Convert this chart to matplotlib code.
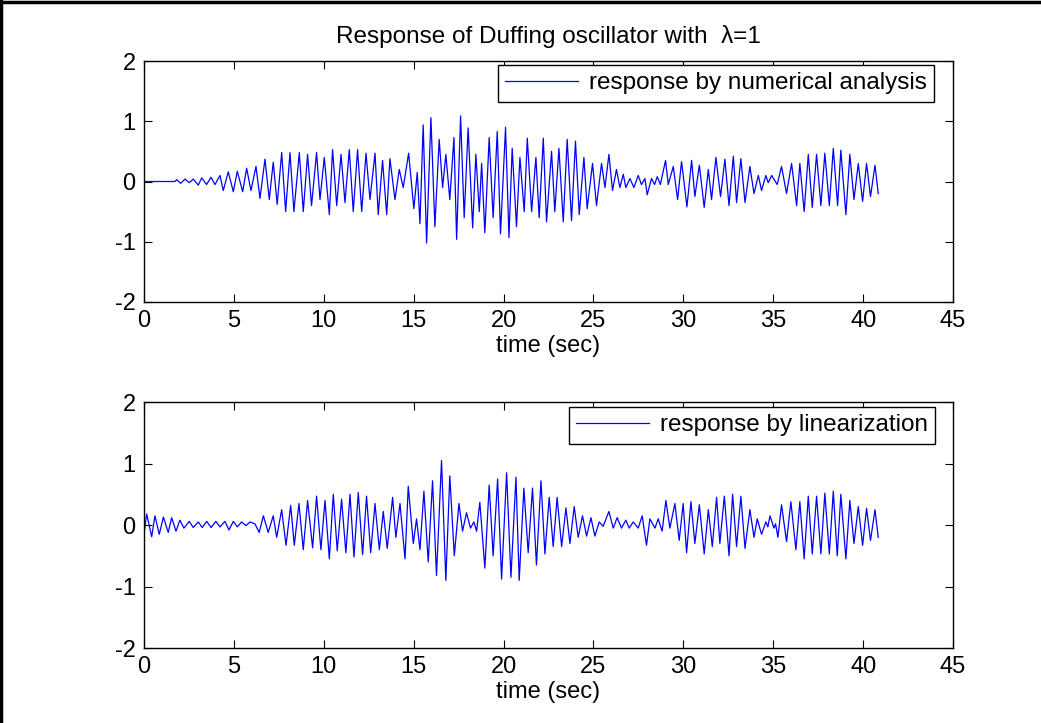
import matplotlib
matplotlib.use("Agg")
import matplotlib.pyplot as plt
from matplotlib.lines import Line2D

plt.rcParams["font.family"] = ["Liberation Sans", "DejaVu Sans"]
plt.rcParams["axes.unicode_minus"] = False

# peaks/troughs (time in s, response)
t_num = [0.0, 1.72, 1.82, 2.04, 2.28, 2.52, 2.74, 3.02, 3.21, 3.48, 3.73, 3.95,
         4.23, 4.41, 4.69, 4.97, 5.19, 5.49, 5.71, 5.95, 6.23, 6.45, 6.73, 6.97,
         7.19, 7.41, 7.66, 7.88, 8.12, 8.34, 8.64, 8.86, 9.10, 9.32, 9.60, 9.79,
         10.03, 10.31, 10.49, 10.72, 10.96, 11.18, 11.42, 11.64, 11.88, 12.11,
         12.35, 12.57, 12.85, 13.03, 13.27, 13.50, 13.68, 13.96, 14.20, 14.42,
         14.72, 15.01, 15.20, 15.35, 15.53, 15.72, 15.96, 16.18, 16.42, 16.61,
         16.79, 17.01, 17.24, 17.39, 17.61, 17.81, 18.03, 18.28, 18.46, 18.65,
         18.78, 18.96, 19.20, 19.42, 19.65, 19.83, 20.11, 20.30, 20.48, 20.72,
         20.91, 21.15, 21.32, 21.56, 21.80, 21.98, 22.21, 22.39, 22.67, 22.85,
         23.08, 23.32, 23.54, 23.78, 24.00, 24.21, 24.47, 24.65, 24.95, 25.17,
         25.45, 25.64, 25.86, 26.06, 26.28, 26.47, 26.66, 26.80, 27.03, 27.25,
         27.49, 27.67, 27.86, 27.99, 28.23, 28.40, 28.55, 28.72, 29.01, 29.16,
         29.44, 29.68, 29.90, 30.20, 30.46, 30.64, 30.89, 31.16, 31.39, 31.57,
         31.81, 32.07, 32.31, 32.54, 32.78, 32.96, 33.20, 33.43, 33.70, 33.93,
         34.17, 34.35, 34.59, 34.72, 34.91, 35.22, 35.46, 35.74, 36.02, 36.30,
         36.48, 36.72, 36.95, 37.17, 37.41, 37.65, 37.87, 38.12, 38.34, 38.58,
         38.76, 39.04, 39.26, 39.49, 39.73, 39.97, 40.19, 40.41, 40.66, 40.84]
y_num = [0.0, 0.0, 0.03, -0.03, 0.04, -0.02, 0.04, -0.06, 0.06, -0.05, 0.07, -0.05,
         0.10, -0.15, 0.16, -0.17, 0.17, -0.17, 0.22, -0.15, 0.25, -0.28, 0.37, -0.30,
         0.32, -0.38, 0.48, -0.50, 0.48, -0.50, 0.48, -0.50, 0.45, -0.40, 0.48, -0.30,
         0.40, -0.55, 0.53, -0.40, 0.45, -0.35, 0.53, -0.50, 0.53, -0.50,
         0.47, -0.30, 0.47, -0.55, 0.35, -0.55, 0.38, -0.30, 0.20, -0.10,
         0.47, -0.45, 0.15, -0.70, 0.94, -1.02, 1.06, -0.75, 0.70, -0.10,
         0.45, -0.30, 0.73, -0.96, 1.09, -0.60, 0.89, -0.77, 0.45, -0.50,
         0.30, -0.85, 0.73, -0.60, 0.83, -0.87, 0.90, -0.93, 0.55, -0.75,
         0.40, -0.50, 0.72, -0.50, 0.40, -0.60, 0.72, -0.67, 0.50, -0.50,
         0.55, -0.67, 0.70, -0.65, 0.67, -0.55, 0.40, -0.45, 0.30, -0.40,
         0.30, -0.10, 0.45, -0.15, 0.20, -0.10, 0.12, -0.10, 0.05, -0.10,
         0.10, -0.05, 0.05, -0.22, 0.05, -0.05, 0.08, -0.05, 0.35, -0.05,
         0.25, -0.30, 0.33, -0.42, 0.35, -0.25, 0.27, -0.43, 0.20, -0.30,
         0.40, -0.25, 0.37, -0.40, 0.42, -0.35, 0.38, -0.35, 0.25, -0.20,
         0.10, -0.15, 0.10, -0.02, 0.10, -0.05, 0.25, -0.20, 0.30, -0.40,
         0.30, -0.50, 0.45, -0.43, 0.45, -0.40, 0.47, -0.40, 0.55, -0.40,
         0.52, -0.55, 0.45, -0.30, 0.30, -0.33, 0.30, -0.25, 0.27, -0.20]

t_lin = [0.0, 0.15, 0.43, 0.61, 0.85, 1.08, 1.35, 1.54, 1.78, 2.00, 2.22, 2.52,
         2.74, 3.02, 3.24, 3.49, 3.73, 4.00, 4.23, 4.50, 4.73, 4.97, 5.19, 5.43,
         5.67, 5.90, 6.17, 6.41, 6.64, 6.91, 7.19, 7.38, 7.66, 7.90, 8.16, 8.36,
         8.62, 8.86, 9.10, 9.38, 9.60, 9.84, 10.07, 10.31, 10.53, 10.75, 10.99,
         11.23, 11.46, 11.68, 11.92, 12.16, 12.38, 12.61, 12.85, 13.09, 13.31,
         13.53, 13.83, 14.01, 14.24, 14.52, 14.70, 14.98, 15.16, 15.35, 15.57,
         15.81, 16.05, 16.27, 16.55, 16.79, 17.01, 17.26, 17.52, 17.72, 17.94,
         18.16, 18.35, 18.50, 18.68, 18.96, 19.20, 19.42, 19.67, 19.89, 20.17,
         20.41, 20.69, 20.87, 21.13, 21.37, 21.61, 21.83, 22.08, 22.30, 22.54,
         22.76, 22.98, 23.23, 23.47, 23.69, 23.93, 24.15, 24.39, 24.62, 24.86,
         25.08, 25.32, 25.54, 25.86, 26.10, 26.32, 26.56, 26.80, 26.99, 27.21,
         27.49, 27.71, 27.95, 28.14, 28.42, 28.60, 28.82, 29.03, 29.25, 29.53,
         29.77, 29.99, 30.18, 30.42, 30.64, 30.89, 31.16, 31.39, 31.61, 31.85,
         32.03, 32.28, 32.54, 32.74, 32.96, 33.20, 33.43, 33.70, 33.93, 34.11,
         34.35, 34.59, 34.70, 34.82, 35.04, 35.13, 35.26, 35.46, 35.74, 35.98,
         36.26, 36.48, 36.72, 36.95, 37.17, 37.41, 37.65, 37.87, 38.12, 38.34,
         38.56, 38.76, 39.04, 39.26, 39.49, 39.73, 39.97, 40.19, 40.41, 40.66, 40.84]
y_lin = [-0.15, 0.18, -0.19, 0.15, -0.15, 0.13, -0.12, 0.12, -0.10, 0.08, -0.05, 0.06,
         -0.04, 0.05, -0.04, 0.06, -0.04, 0.06, -0.03, 0.06, -0.08, 0.06, -0.03, 0.05,
         -0.01, 0.05, 0.02, -0.12, 0.15, -0.12, 0.15, -0.20, 0.25, -0.33, 0.32, -0.33,
         0.35, -0.40, 0.40, -0.37, 0.47, -0.40, 0.40, -0.55, 0.50, -0.42, 0.42,
         -0.45, 0.50, -0.52, 0.53, -0.48, 0.47, -0.45, 0.35, -0.40, 0.22,
         -0.38, 0.45, -0.20, 0.35, -0.55, 0.63, -0.30, 0.10, -0.40, 0.55,
         -0.60, 0.72, -0.82, 1.05, -0.90, 0.80, -0.50, 0.35, -0.10, 0.20,
         -0.05, 0.05, -0.10, 0.37, -0.70, 0.65, -0.50, 0.75, -0.88, 0.85,
         -0.85, 0.78, -0.90, 0.60, -0.45, 0.60, -0.65, 0.72, -0.47, 0.45,
         -0.35, 0.45, -0.35, 0.28, -0.30, 0.30, -0.20, 0.15, -0.18, 0.12,
         -0.18, 0.05, -0.02, 0.22, -0.05, 0.12, -0.05, 0.08, -0.05, 0.05,
         -0.05, 0.15, -0.33, 0.10, -0.05, 0.10, -0.10, 0.40, -0.05, 0.35,
         -0.25, 0.35, -0.45, 0.38, -0.30, 0.33, -0.47, 0.25, -0.35, 0.45,
         -0.30, 0.47, -0.50, 0.50, -0.35, 0.47, -0.38, 0.25, -0.20, 0.10,
         -0.15, 0.05, -0.03, 0.15, -0.05, 0.02, -0.20, 0.33, -0.27, 0.38,
         -0.40, 0.38, -0.55, 0.47, -0.47, 0.47, -0.47, 0.52, -0.47, 0.55,
         -0.50, 0.50, -0.55, 0.40, -0.30, 0.30, -0.33, 0.27, -0.25, 0.25, -0.20]

xticks = [0, 5, 10, 15, 20, 25, 30, 35, 40, 45]
yticks = [-2, -1, 0, 1, 2]

fig = plt.figure(figsize=(10.41, 7.23), dpi=100)
ax1 = fig.add_axes([0.1383, 0.5823, 0.7772, 0.3333])
ax2 = fig.add_axes([0.1383, 0.1037, 0.7772, 0.3402])

panels = [(ax1, t_num, y_num, "response by numerical analysis", (0.9765, 0.983)),
          (ax2, t_lin, y_lin, "response by linearization", (0.9778, 0.98))]

for ax, t, y, lab, anchor in panels:
    ax.plot(t, y, color="#0000ff", lw=0.9, label=lab)
    ax.set_xlim(0, 45)
    ax.set_ylim(-2, 2)
    ax.set_xticks(xticks)
    ax.set_yticks(yticks)
    ax.tick_params(direction="in", top=True, right=True, length=5.5,
                   width=0.8, labelsize=17, pad=6)
    for s in ax.spines.values():
        s.set_linewidth(1.0)
    ax.set_xlabel("time (sec)", fontsize=17, labelpad=2)
    leg = ax.legend(loc="upper right", bbox_to_anchor=anchor, borderaxespad=0,
                    fontsize=17.5, handlelength=3.0, handletextpad=0.45,
                    borderpad=0.3, fancybox=False, framealpha=1)
    leg.get_frame().set_edgecolor("black")
    leg.get_frame().set_linewidth(1.0)

ax1.set_title("Response of Duffing oscillator with  λ=1", fontsize=17.5, pad=13)

# figure frame (top and left edges only)
fig.add_artist(Line2D([0, 1], [0.997, 0.997], transform=fig.transFigure, color="black", lw=2.5))
fig.add_artist(Line2D([0.001, 0.001], [0, 1], transform=fig.transFigure, color="black", lw=2.5))

plt.savefig("out.png", dpi=100)
